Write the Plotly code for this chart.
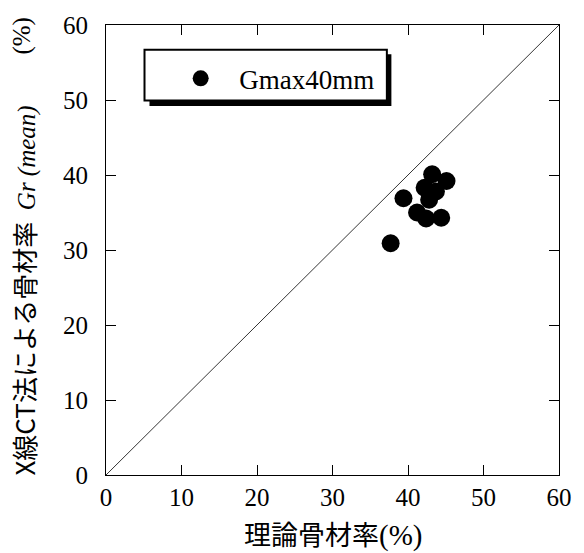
import plotly.graph_objects as go

# data
theory = [43.2, 45.1, 42.2, 43.7, 42.8, 39.4, 41.2, 42.4, 44.4, 37.7]
xct = [40.1, 39.2, 38.3, 37.8, 36.7, 36.9, 35.0, 34.2, 34.3, 30.9]
series_name = "Gmax40mm"
ref_line = [0, 60]
tick_vals = [0, 10, 20, 30, 40, 50, 60]

serif = "Liberation Serif, Times New Roman, serif"
jp = "Noto Sans CJK JP"

fig = go.Figure()
fig.add_trace(go.Scatter(x=ref_line, y=ref_line, mode="lines",
                         line=dict(color="black", width=0.8),
                         showlegend=False, hoverinfo="skip"))
fig.add_trace(go.Scatter(x=theory, y=xct, mode="markers", name=series_name,
                         marker=dict(color="black", size=18, line=dict(width=0))))

# legend box with shadow
fig.add_shape(type="rect", xref="paper", yref="paper",
              x0=0.096, x1=0.630, y0=0.820, y1=0.935,
              fillcolor="black", line=dict(width=0), layer="above")
fig.add_shape(type="rect", xref="paper", yref="paper",
              x0=0.085, x1=0.620, y0=0.832, y1=0.945,
              fillcolor="white", line=dict(color="black", width=2), layer="above")

axis_common = dict(range=[0, 60], tickvals=tick_vals, ticks="inside", ticklen=10,
                   tickcolor="black", tickwidth=1, showline=True, linecolor="black",
                   linewidth=1, mirror="ticks", showgrid=False, zeroline=False,
                   tickfont=dict(family=serif, size=25, color="black"))

fig.update_layout(
    width=584, height=553,
    margin=dict(l=106, r=20, t=21, b=78),
    plot_bgcolor="white", paper_bgcolor="white",
    xaxis=dict(**axis_common, ticklabelstandoff=0),
    yaxis=dict(**axis_common, ticklabelstandoff=12),
    legend=dict(x=0.124, y=0.935, xanchor="left", yanchor="top", itemwidth=67,
                bgcolor="rgba(0,0,0,0)", borderwidth=0,
                font=dict(family=serif, size=27, color="black")),
    annotations=[
        dict(text="理論骨材率<span style='font-family:Liberation Serif;font-size:29px'>(%)</span>",
             xref="paper", yref="paper", x=0.5, y=-0.1297,
             xanchor="center", yanchor="middle", showarrow=False,
             font=dict(family=jp, size=27, color="black")),
        dict(text="X線CT法による骨材率  <span style='font-family:Liberation Serif;font-size:25px'><i>Gr (mean)</i></span>",
             xref="paper", yref="paper", x=-0.183, y=0.41, textangle=-90,
             xanchor="center", yanchor="middle", showarrow=False,
             font=dict(family=jp, size=26, color="black")),
        dict(text="(%)", xref="paper", yref="paper", x=-0.186, y=0.976, textangle=-90,
             xanchor="center", yanchor="middle", showarrow=False,
             font=dict(family=serif, size=25, color="black")),
    ],
)

fig.write_html("out.html")
